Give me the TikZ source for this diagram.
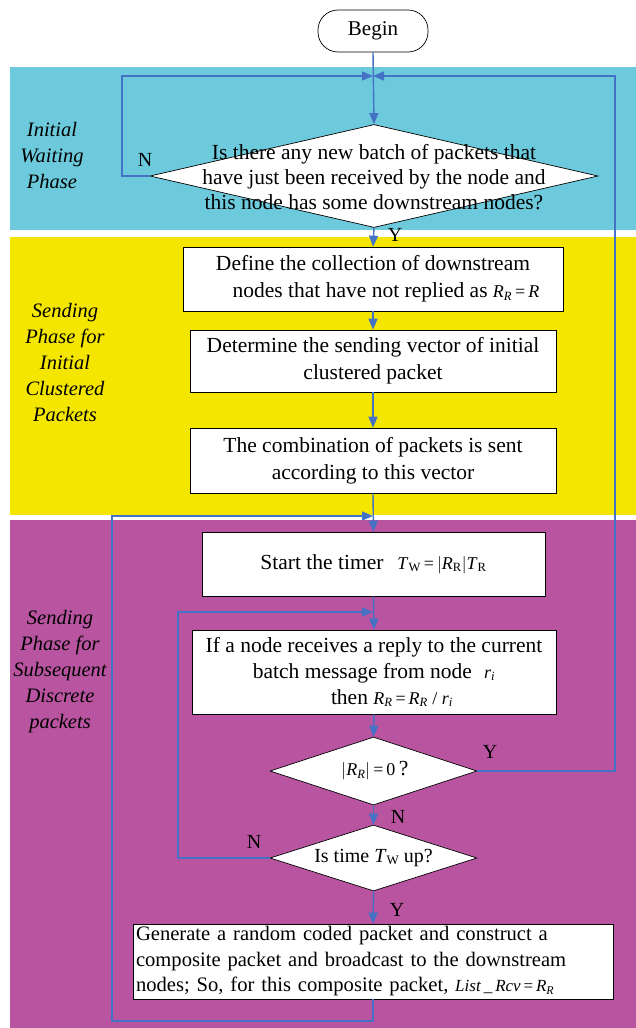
\documentclass[tikz,border=0pt]{standalone}
\usepackage{fontspec}
\setmainfont{Liberation Serif}
\usetikzlibrary{shapes.geometric,arrows.meta}
\definecolor{bgcyan}{RGB}{108,202,220}
\definecolor{bgyellow}{RGB}{245,230,0}
\definecolor{bgmagenta}{RGB}{184,84,160}
\definecolor{lineblue}{RGB}{68,114,196}
\newcommand{\mysub}[1]{\textsubscript{#1}}
\newcommand{\RRm}{\textit{R}\mysub{\textit{R}}}
\newcommand{\eqs}{\,=\,}
\begin{document}
\begin{tikzpicture}[x=1pt,y=-1pt,
  flow/.style={draw=lineblue,line width=1.4pt},
  arr/.style={flow,-{Triangle[length=11pt,width=9pt]}},
  box/.style={draw=black,fill=white,line width=0.7pt,align=center,inner sep=0pt,
    font=\fontsize{21.5}{27}\selectfont},
  dec/.style={diamond,draw=black,fill=white,line width=0.7pt,inner sep=0pt},
  dectext/.style={align=center,inner sep=0pt,font=\fontsize{21.5}{25}\selectfont},
  phase/.style={align=center,inner sep=0pt,font=\fontsize{20.5}{26}\selectfont\itshape},
  lab/.style={inner sep=0pt,font=\fontsize{20}{20}\selectfont},
  term/.style={draw=black,fill=white,line width=0.7pt,rounded corners=20pt,
    minimum width=110pt,minimum height=42pt,font=\fontsize{21}{22}\selectfont}]
\useasboundingbox (0,0) rectangle (636,1028);
\fill[white] (0,0) rectangle (636,1028);
% phase bands
\fill[bgcyan] (10,67) rectangle (636,230);
\fill[bgyellow] (10,237) rectangle (636,515);
\fill[bgmagenta] (10,520) rectangle (636,1028);
\node[phase] (p1) at (52,155) {Initial\\Waiting\\Phase};
\node[phase] (p2) at (65,362) {Sending\\Phase for\\Initial\\Clustered\\Packets};
\node[phase] (p3) at (60,672) {Sending\\Phase for\\Subsequent\\Discrete\\packets};
% nodes
\node[term] (begin) at (373,31) {Begin};
\node[dec,minimum width=448pt,minimum height=103pt] (d1) at (374,176) {};
\node[dectext] (d1t) at (374,177) {Is there any new batch of packets that\\have just been received by the node and\\this node has some downstream nodes?};
\node[box,minimum width=380pt,minimum height=64pt] (b1) at (373,279)
  {Define the collection of downstream\\\hspace*{26pt}nodes that have not replied as {\fontsize{18}{20}\selectfont\RRm\eqs\textit{R}}};
\node[box,minimum width=366pt,minimum height=62pt] (b2) at (373,361)
  {Determine the sending vector of initial\\clustered packet};
\node[box,minimum width=366pt,minimum height=65pt] (b3) at (373,460.5)
  {The combination of packets is sent\\according to this vector};
\node[box,minimum width=343pt,minimum height=64pt] (b4) at (373.5,564)
  {Start the timer\hspace{14pt}{\fontsize{18}{20}\selectfont\textit{T}\mysub{W}\eqs$|$\textit{R}\mysub{R}$|$\textit{T}\mysub{R}}};
\node[box,minimum width=364pt,minimum height=84pt,font=\fontsize{21.5}{26}\selectfont] (b5) at (374,672)
  {If a node receives a reply to the current\\batch message from node\hspace{12pt}{\fontsize{18}{20}\selectfont\textit{r}\mysub{\textit{i}}}\\\hspace*{36pt}then {\fontsize{18}{20}\selectfont\RRm\eqs\RRm{} / \textit{r}\mysub{\textit{i}}}};
\node[dec,minimum width=207pt,minimum height=68pt] (d2) at (373.5,771) {};
\node[dectext] (d2t) at (375,771) {{\fontsize{18}{20}\selectfont$|$\RRm$|$\eqs0}\,?};
\node[dec,minimum width=207pt,minimum height=66pt] (d3) at (373.5,858) {};
\node[dectext,font=\fontsize{20}{22}\selectfont] (d3t) at (373.5,858) {Is time \textit{T}{\fontsize{13}{14}\selectfont\raisebox{-2pt}{W}} up?};
\node[box,minimum width=480pt,minimum height=75pt,text width=474pt,align=left,
  font=\fontsize{20.6}{25.5}\selectfont] (b6) at (373,961.5)
  {Generate a random coded packet and construct a\\composite packet and broadcast to the downstream\\nodes; So, for this composite packet, {\fontsize{17}{20}\selectfont\textit{List}\,\_\,\textit{Rcv}\eqs\RRm}};
% junctions and corners
\coordinate (j1) at (373,76);
\coordinate (nL) at (122,76);
\coordinate (rT) at (615,76);
\coordinate (j2) at (373,516);
\coordinate (bB) at (112,1021);
\coordinate (j3) at (373,612);
\coordinate (lT) at (178,612);
% connectors
\draw[arr] (begin.south) -- (d1.north);
\draw[arr] (d1.west) -| (nL) -- (j1);
\draw[arr] (d2.east) -| (rT) -- (j1);
\draw[arr] (d1.south) -- (b1.north);
\draw[arr] (b1.south) -- (b2.north);
\draw[arr] (b2.south) -- (b3.north);
\draw[arr] (b3.south) -- (b4.north);
\draw[arr] (b6.south) |- (bB) |- (j2);
\draw[arr] (b4.south) -- (b5.north);
\draw[arr] (d3.west) -| (lT) -- (j3);
\draw[arr] (b5.south) -- (d2.north);
\draw[arr] (d2.south) -- (d3.north);
\draw[arr] (d3.south) -- (b6.north);
% branch labels
\node[lab] (n1) at (145,160) {N};
\node[lab] (y1) at (395,235) {Y};
\node[lab] (y2) at (490,752) {Y};
\node[lab] (n2) at (398,817) {N};
\node[lab] (n3) at (254,842) {N};
\node[lab] (y3) at (397,910) {Y};
\end{tikzpicture}
\end{document}
